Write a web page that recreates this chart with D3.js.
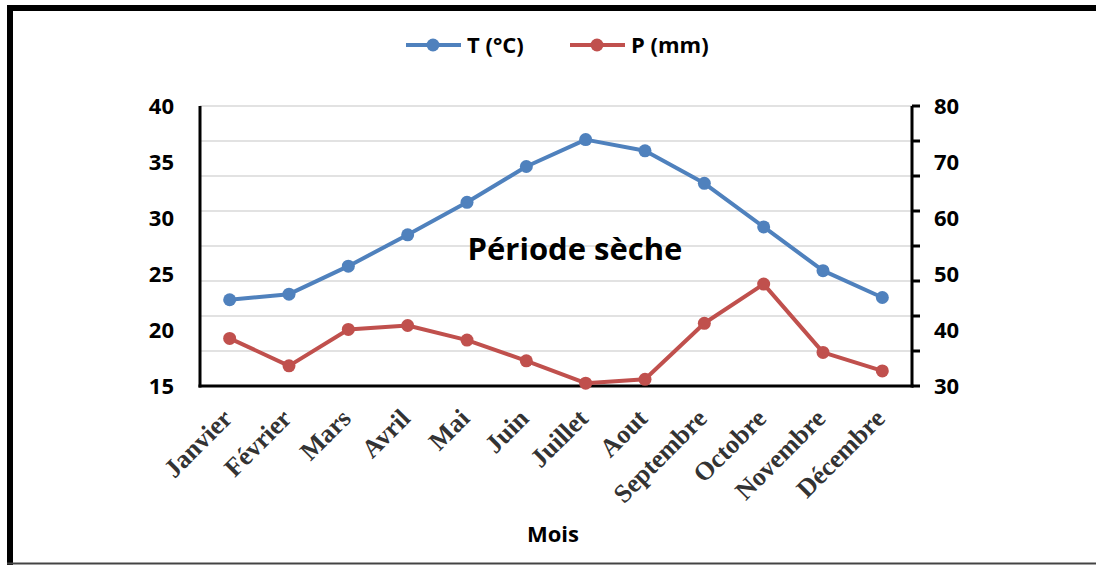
<!DOCTYPE html>
<html>
<head>
<meta charset="utf-8">
<script src="https://d3js.org/d3.v7.min.js"></script>
<style>
  body { margin: 0; background: #fff; }
  svg text { font-family: "Open Sans", Lato, sans-serif; font-weight: bold; }
  .mois text { font-family: "Liberation Serif", "Times New Roman", serif; font-weight: bold; fill: #333; }
</style>
</head>
<body>
<script>
// data
const mois = ["Janvier", "Février", "Mars", "Avril", "Mai", "Juin", "Juillet", "Aout", "Septembre", "Octobre", "Novembre", "Décembre"];
const temperature = [22.7, 23.2, 25.7, 28.5, 31.4, 34.6, 37.0, 36.0, 33.1, 29.2, 25.3, 22.9];
const precipitation = [38.5, 33.6, 40.1, 40.8, 38.2, 34.5, 30.5, 31.2, 41.2, 48.2, 36.0, 32.7];
const ticksT = [15, 20, 25, 30, 35, 40];
const ticksP = [30, 40, 50, 60, 70, 80];
const gridP = d3.range(30, 80.01, 6.25);
const series = [
  { name: "T (°C)", color: "#4F81BD" },
  { name: "P (mm)", color: "#C0504D" }
];

const W = 1096, H = 565;
const pLeft = 200, pRight = 912, pTop = 106, pBottom = 386;

const svg = d3.select("body").append("svg")
  .attr("width", W).attr("height", H);

// frame
svg.append("rect").attr("x", 7).attr("y", 5).attr("width", W - 7).attr("height", 6).attr("fill", "#000");
svg.append("rect").attr("x", 7).attr("y", 5).attr("width", 6).attr("height", H - 5).attr("fill", "#000");
svg.append("line").attr("x1", 7).attr("x2", W).attr("y1", 563.5).attr("y2", 563.5)
  .attr("stroke", "#444").attr("stroke-width", 2);

// scales
const x = d3.scaleBand().domain(mois).range([pLeft, pRight]);
const cx = m => x(m) + x.bandwidth() / 2;
const yT = d3.scaleLinear().domain([15, 40]).range([pBottom, pTop]);
const yP = d3.scaleLinear().domain([30, 80]).range([pBottom, pTop]);

// gridlines
svg.append("g").selectAll("line").data(gridP.slice(1)).enter().append("line")
  .attr("x1", pLeft).attr("x2", pRight)
  .attr("y1", d => yP(d)).attr("y2", d => yP(d))
  .attr("stroke", "#d9d9d9").attr("stroke-width", 1.5);

// right axis ticks
svg.append("g").selectAll("line").data(gridP).enter().append("line")
  .attr("x1", pRight).attr("x2", pRight + 8)
  .attr("y1", d => yP(d)).attr("y2", d => yP(d))
  .attr("stroke", "#000").attr("stroke-width", 3);

// axis lines
svg.append("line").attr("x1", pLeft).attr("x2", pLeft).attr("y1", pTop).attr("y2", pBottom + 1.5)
  .attr("stroke", "#000").attr("stroke-width", 3);
svg.append("line").attr("x1", pRight).attr("x2", pRight).attr("y1", pTop).attr("y2", pBottom + 1.5)
  .attr("stroke", "#000").attr("stroke-width", 3);
svg.append("line").attr("x1", pLeft - 1.5).attr("x2", pRight + 1.5).attr("y1", pBottom).attr("y2", pBottom)
  .attr("stroke", "#000").attr("stroke-width", 3);

// axis labels
svg.append("g").selectAll("text").data(ticksT).enter().append("text")
  .attr("x", 174).attr("y", d => yT(d) + 8)
  .attr("text-anchor", "end").attr("font-size", 22)
  .text(d => d);
svg.append("g").selectAll("text").data(ticksP).enter().append("text")
  .attr("x", 934).attr("y", d => yP(d) + 8)
  .attr("text-anchor", "start").attr("font-size", 22)
  .text(d => d);

svg.append("g").attr("class", "mois").selectAll("text").data(mois).enter().append("text")
  .attr("transform", d => `translate(${cx(d) + 4},${420}) rotate(-45)`)
  .attr("text-anchor", "end").attr("font-size", 26)
  .text(d => d);

svg.append("text").attr("x", 553).attr("y", 542).attr("text-anchor", "middle")
  .attr("font-size", 22).text("Mois");

svg.append("text").attr("x", 575).attr("y", 260).attr("text-anchor", "middle")
  .attr("font-size", 31).text("Période sèche");

// lines
const values = [temperature, precipitation];
const scales = [yT, yP];
series.forEach((s, i) => {
  const line = d3.line().x((d, j) => cx(mois[j])).y(d => scales[i](d));
  svg.append("path").datum(values[i])
    .attr("d", line).attr("fill", "none")
    .attr("stroke", s.color).attr("stroke-width", 4).attr("stroke-linejoin", "round");
  svg.append("g").selectAll("circle").data(values[i]).enter().append("circle")
    .attr("cx", (d, j) => cx(mois[j])).attr("cy", d => scales[i](d))
    .attr("r", 6.5).attr("fill", s.color);
});

// legend
const lx = [406, 570];
series.forEach((s, i) => {
  const g = svg.append("g").attr("transform", `translate(${lx[i]},45)`);
  g.append("line").attr("x1", 0).attr("x2", 55).attr("stroke", s.color).attr("stroke-width", 4);
  g.append("circle").attr("cx", 27).attr("r", 6.5).attr("fill", s.color);
  g.append("text").attr("x", 61).attr("y", 8).attr("font-size", 22).text(s.name);
});
</script>
</body>
</html>
